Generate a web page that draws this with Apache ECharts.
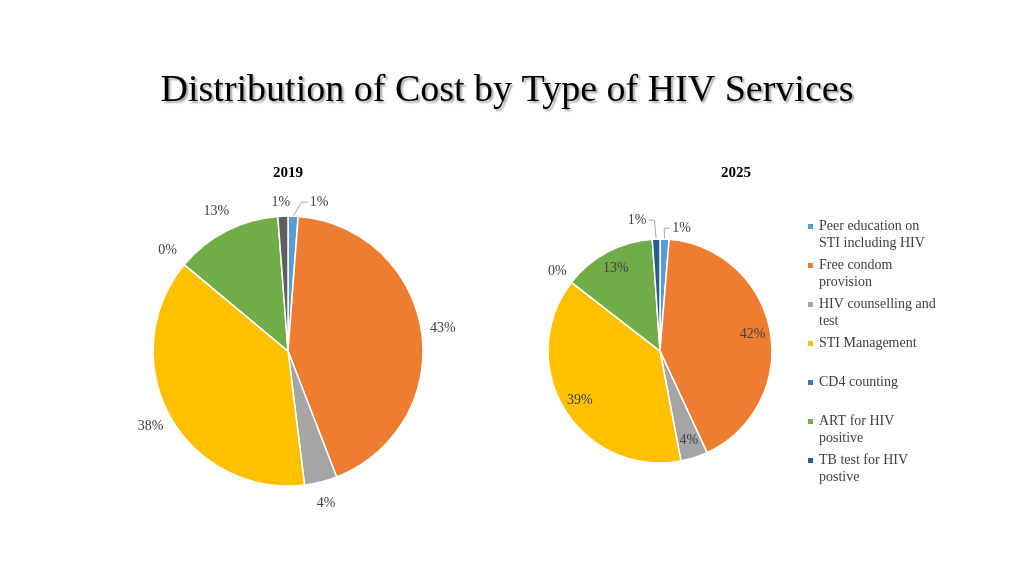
<!DOCTYPE html>
<html>
<head>
<meta charset="utf-8">
<script src="https://cdn.jsdelivr.net/npm/echarts@6/dist/echarts.min.js"></script>
<style>
html, body { margin: 0; background: #fff; }
#chart { width: 1024px; height: 576px; }
</style>
</head>
<body>
<div id="chart"></div>
<script>
const services = ['Peer education on STI including HIV', 'Free condom provision', 'HIV counselling and test',
    'STI Management', 'CD4 counting', 'ART for HIV positive', 'TB test for HIV postive'];
const legendLabels = ['Peer education on\nSTI including HIV', 'Free condom\nprovision', 'HIV counselling and\ntest',
    'STI Management\n ', 'CD4 counting\n ', 'ART for HIV\npositive', 'TB test for HIV\npostive'];
const colors = ['#5B9BD5', '#ED7D31', '#A5A5A5', '#FFC000', '#4472C4', '#70AD47', '#255E91'];
const cost2019 = [1.2, 42.8, 3.9, 37.9, 0, 12.7, 1.2];
const cost2025 = [1.3, 41.8, 3.9, 38.5, 0, 13.4, 1.1];
const years = ['2019', '2025'];

let chart = echarts.init(document.getElementById('chart'));

const serif = 'Liberation Serif';

// put percentage labels like the office chart does: outside or near the rim,
// and a few small slices get a short callout line
function labelPlacer(values, center, radius, inside, callouts) {
    const total = values.reduce((a, b) => a + b, 0);
    return function (p) {
        const i = p.dataIndex;
        let before = 0;
        for (let k = 0; k < i; k++) before += values[k];
        const mid = (before + values[i] / 2) / total * Math.PI * 2;
        const sx = Math.sin(mid), sy = -Math.cos(mid);
        const c = callouts[i];
        if (c) {
            const ax = center[0] + sx * radius, ay = center[1] + sy * radius;
            const x = ax + c[0], y = ay + c[1];
            const out = { x: x, y: y, align: 'center', verticalAlign: 'middle' };
            if (c[2]) {
                const half = p.labelRect.width / 2 + 2;
                const ex = c[0] > 0 ? x - half : x + half;
                out.labelLinePoints = [[ex, y], [c[0] > 0 ? ex - 6 : ex + 6, y], [ax, ay]];
            }
            return out;
        }
        const f = inside.indexOf(i) >= 0 ? 0.84 : 1.16;
        return {
            x: center[0] + sx * radius * f,
            y: center[1] + sy * radius * f,
            align: 'center',
            verticalAlign: 'middle'
        };
    };
}

function pieSeries(values, center, radius, inside, callouts, lined, overrideColors) {
    return {
        type: 'pie',
        center: center,
        radius: radius,
        startAngle: 90,
        clockwise: true,
        silent: true,
        animation: false,
        itemStyle: { borderColor: '#fff', borderWidth: 1.5 },
        label: {
            show: true,
            position: 'outside',
            formatter: p => Math.round(p.percent) + '%',
            fontFamily: serif,
            fontSize: 14,
            color: '#404040'
        },
        labelLine: { show: true, lineStyle: { color: '#a6a6a6', width: 1 } },
        labelLayout: labelPlacer(values, center, radius, inside, callouts),
        data: services.map((name, i) => ({
            name: name,
            value: values[i],
            itemStyle: overrideColors[i] ? { color: overrideColors[i] } : {},
            labelLine: { show: lined.indexOf(i) >= 0 }
        }))
    };
}

const option = {
    backgroundColor: '#fff',
    color: colors,
    title: [
        {
            text: 'Distribution of Cost by Type of HIV Services',
            left: 502,
            textAlign: 'center',
            top: 67,
            textStyle: {
                fontFamily: serif,
                fontSize: 38,
                fontWeight: 'normal',
                color: '#000',
                textShadowColor: 'rgba(0,0,0,0.35)',
                textShadowBlur: 2,
                textShadowOffsetX: 2,
                textShadowOffsetY: 2
            }
        },
        {
            text: years[0], left: 283, textAlign: 'center', top: 161,
            textStyle: { fontFamily: serif, fontSize: 15, fontWeight: 'bold', color: '#000' }
        },
        {
            text: years[1], left: 731, textAlign: 'center', top: 161,
            textStyle: { fontFamily: serif, fontSize: 15, fontWeight: 'bold', color: '#000' }
        }
    ],
    legend: {
        orient: 'vertical',
        left: 801,
        top: 196,
        itemWidth: 7,
        itemHeight: 7,
        itemGap: -12,
        icon: 'rect',
        selectedMode: false,
        data: services,
        // a blank first line keeps the marker level with the first text line
        formatter: name => '\n' + legendLabels[services.indexOf(name)],
        textStyle: {
            fontFamily: serif,
            fontSize: 14,
            color: '#404040',
            lineHeight: 17
        }
    },
    series: [
        // 2025 first so the legend takes its colours
        pieSeries(cost2025, [660, 351], 112, [1, 2, 3, 5], { 0: [17, -11, true], 6: [-19, -19, true] }, [0, 6], {}),
        pieSeries(cost2019, [288, 351], 135, [], { 0: [26, -14, true], 6: [-2, -14, false] }, [0], { 6: '#5F5F5F' })
    ]
};

chart.setOption(option);
</script>
</body>
</html>
